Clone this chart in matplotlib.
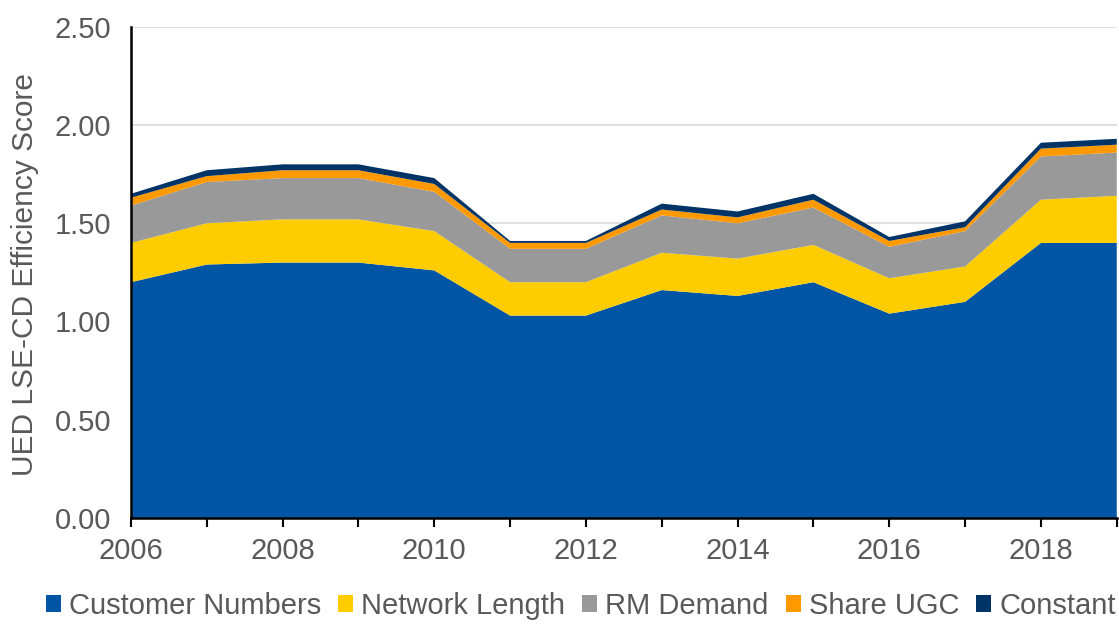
import matplotlib
matplotlib.use("Agg")
import matplotlib.pyplot as plt
import numpy as np

plt.rcParams['font.family'] = ['Liberation Sans', 'DejaVu Sans']

years = list(range(2006, 2020))
customer_numbers = [1.20, 1.29, 1.30, 1.30, 1.26, 1.03, 1.03, 1.16, 1.13, 1.20, 1.04, 1.10, 1.40, 1.40]
network_length = [0.20, 0.21, 0.22, 0.22, 0.20, 0.17, 0.17, 0.19, 0.19, 0.19, 0.18, 0.18, 0.22, 0.24]
rm_demand = [0.19, 0.21, 0.21, 0.21, 0.20, 0.17, 0.17, 0.19, 0.18, 0.19, 0.16, 0.18, 0.22, 0.22]
share_ugc = [0.04, 0.03, 0.04, 0.04, 0.04, 0.03, 0.03, 0.03, 0.03, 0.04, 0.03, 0.02, 0.04, 0.04]
constant = [0.02, 0.03, 0.03, 0.03, 0.03, 0.01, 0.01, 0.03, 0.03, 0.03, 0.02, 0.03, 0.03, 0.03]

labels = ["Customer Numbers", "Network Length", "RM Demand", "Share UGC", "Constant"]
colors = ["#0055A4", "#FFCC00", "#999999", "#FF9900", "#003366"]

fig = plt.figure(figsize=(11.19, 6.24), dpi=100)
ax = fig.add_axes([0.117, 0.170, 0.881, 0.787])

ax.stackplot(years, customer_numbers, network_length, rm_demand, share_ugc, constant,
             labels=labels, colors=colors, linewidth=0)

ax.set_xlim(2006, 2019)
ax.set_ylim(0, 2.5)
ax.set_yticks(np.arange(0, 2.51, 0.5))
ax.set_yticklabels([f"{v:.2f}" for v in np.arange(0, 2.51, 0.5)])
ax.set_xticks(years)
ax.set_xticklabels([str(y) if y % 2 == 0 else "" for y in years])
ax.grid(axis='y', color='#D9D9D9', linewidth=1.2)
ax.set_axisbelow(True)

for s in ['top', 'right']:
    ax.spines[s].set_visible(False)
ax.spines['left'].set_color('black')
ax.spines['bottom'].set_color('black')
ax.spines['left'].set_linewidth(1.8)
ax.spines['bottom'].set_linewidth(1.8)

ax.tick_params(axis='y', length=0, labelsize=21, labelcolor='#595959', pad=14)
ax.tick_params(axis='x', length=6.5, width=1.5, direction='out', labelsize=21, labelcolor='#595959', pad=7)

ax.set_ylabel("UED LSE-CD Efficiency Score", fontsize=21.5, color='#595959')
ax.yaxis.set_label_coords(-0.093, 0.495)

leg = fig.legend(loc='lower center', bbox_to_anchor=(0.519, -0.036), ncol=5, frameon=False,
                 fontsize=21, handlelength=0.52, handleheight=0.52, handletextpad=0.27,
                 columnspacing=0.58, labelcolor='#595959')

fig.savefig("out.png", dpi=100)
